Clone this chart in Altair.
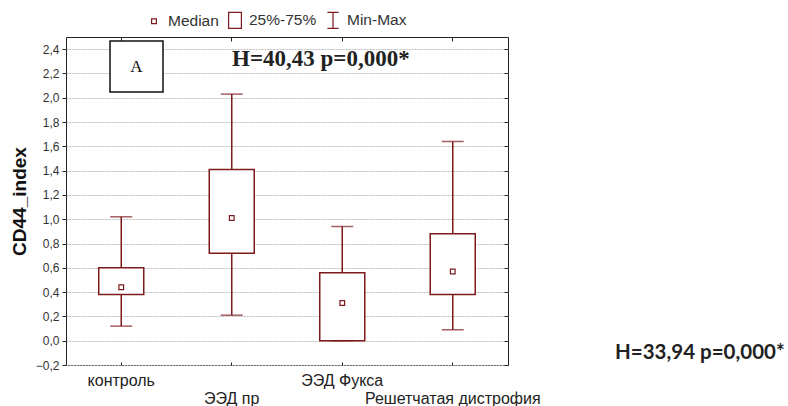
import altair as alt
import pandas as pd

# ---- data ----
categories = ["контроль", "ЭЭД пр", "ЭЭД Фукса", "Решетчатая дистрофия"]
q1_values = [0.38, 0.72, 0.00, 0.38]
q3_values = [0.60, 1.41, 0.56, 0.88]
median_values = [0.44, 1.01, 0.31, 0.57]
min_values = [0.12, 0.21, 0.00, 0.09]
max_values = [1.02, 2.03, 0.94, 1.64]
legend_items = ["Median", "25%-75%", "Min-Max"]
annotation_main = "H=40,43 p=0,000*"
annotation_side = "H=33,94 p=0,000*"
panel_label = "A"
y_ticks = [-0.2, 0.0, 0.2, 0.4, 0.6, 0.8, 1.0, 1.2, 1.4, 1.6, 1.8, 2.0, 2.2, 2.4]

df = pd.DataFrame({
    "cat": categories, "q1": q1_values, "q3": q3_values,
    "med": median_values, "lo": min_values, "hi": max_values,
})
leg_df = pd.DataFrame({"item": legend_items})

C = "#7d1a1d"
W, H = 442, 328
yscale = alt.Scale(domain=[-0.2, 2.5], nice=False, zero=False)
xscale = alt.Scale(domain=categories)

left_axis = alt.Axis(
    values=y_ticks, labelExpr="replace(format(datum.value, '.1f'), '.', ',')",
    domain=False, ticks=True, tickSize=4, tickColor="#222", labelPadding=3,
    labelFontSize=12, labelColor="#333", grid=True, gridColor="#bdbdbd",
    gridDash=[2, 1], gridWidth=1, title="CD44_index", titleFontSize=19,
    titleFontWeight="bold", titleColor="#111", titlePadding=6,
)
bottom_axis = alt.Axis(
    title=None, domain=False, grid=False, tickSize=3, offset=-3, tickColor="#222",
    labelAngle=0, labelFontSize=16, labelColor="#222",
    labelPadding={"condition": {"test": "indexof(['ЭЭД пр','Решетчатая дистрофия'], datum.value) >= 0", "value": 25}, "value": 7},
)
top_axis = alt.Axis(orient="top", title=None, domain=False, grid=False, labels=False,
                    tickSize=4, offset=-4, tickColor="#222")
right_axis = alt.Axis(orient="right", title=None, domain=False, grid=False, labels=False,
                      values=y_ticks, tickSize=4, offset=-4, tickColor="#222")

def X(axis=None):
    return alt.X("cat:N", sort=categories, scale=xscale, axis=axis)

def Y(field, axis=None):
    return alt.Y(f"{field}:Q", scale=yscale, axis=axis)

base = alt.Chart(df)

whisk = base.mark_rule(color=C, strokeWidth=1.5).encode(
    x=X(bottom_axis), y=Y("lo", left_axis), y2="hi:Q")
frame = base.mark_rule(opacity=0).encode(x=X(top_axis), y=Y("lo", right_axis))
box = base.mark_bar(fill="white", stroke=C, strokeWidth=1.5, size=45).encode(
    x=X(), y=Y("q1"), y2="q3:Q")
capl = base.mark_tick(color=C, size=22, thickness=1.5).encode(x=X(), y=Y("lo"))
caph = base.mark_tick(color=C, size=22, thickness=1.5).encode(x=X(), y=Y("hi"))
med = base.mark_square(size=22, fill="white", stroke=C, strokeWidth=1.2, opacity=1).encode(
    x=X(), y=Y("med"))

legend = alt.Chart(leg_df).mark_point(opacity=0, filled=False).encode(
    shape=alt.Shape("item:N", scale=alt.Scale(
        domain=legend_items,
        range=["M-0.3,-0.3H0.3V0.3H-0.3Z",
               "M-0.8,-1H0.8V1H-0.8Z",
               "M-0.7,-1H0.7M0,-1V1M-0.7,1H0.7"]),
        legend=alt.Legend(orient="none", legendX=79, legendY=-26, direction="horizontal",
                          columns=3, title=None, symbolSize=256, symbolStrokeColor=C,
                          symbolFillColor="white", symbolStrokeWidth=1.2, symbolOpacity=1,
                          labelFont="Liberation Sans", labelFontSize=15.5, labelColor="#333",
                          labelOffset=5, columnPadding=7, padding=0)))

ann = alt.Chart(pd.DataFrame({"t": [annotation_main]}))
abox = ann.mark_rect(fill="white", stroke="#111", strokeWidth=1.5).encode(
    x=alt.value(44), x2=alt.value(97), y=alt.value(4), y2=alt.value(55))
atext = ann.mark_text(font="Liberation Serif", fontSize=17, color="#111").encode(
    x=alt.value(70.5), y=alt.value(29.5), text=alt.value(panel_label))
htext = ann.mark_text(font="Liberation Serif", fontSize=23, fontWeight="bold",
                      color="#222", align="left", baseline="middle").encode(
    x=alt.value(166), y=alt.value(21.5), text="t:N")
side = alt.Chart(pd.DataFrame({"t": [annotation_side]})).mark_text(
    font="Lato", fontSize=20.5, fontWeight="bold", color="#222", align="left",
    baseline="middle").encode(x=alt.value(549), y=alt.value(316), text="t:N")

chart = alt.layer(
    whisk, frame, box, capl, caph, med, abox, atext, htext, side, legend
).resolve_axis(x="independent", y="independent").properties(
    width=W, height=H,
    autosize=alt.AutoSizeParams(type="none"),
    padding={"left": 66, "top": 37, "right": 280, "bottom": 41},
).configure(font="Liberation Sans").configure_view(stroke="#222", strokeWidth=1)

chart.save("out.html", embed_options={"renderer": "svg", "actions": False})
